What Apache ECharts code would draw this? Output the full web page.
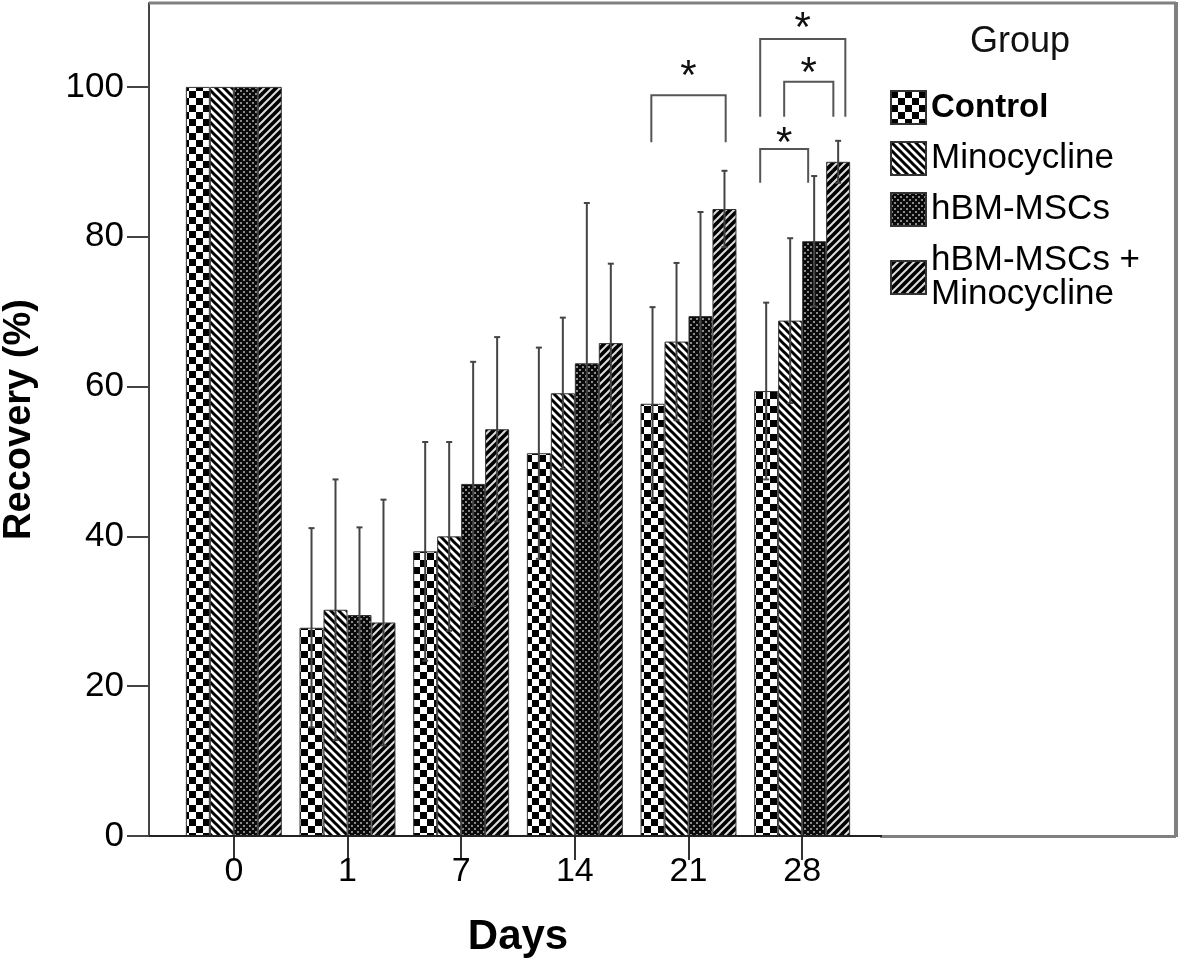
<!DOCTYPE html>
<html>
<head>
<meta charset="utf-8">
<script src="https://cdn.jsdelivr.net/npm/echarts@6/dist/echarts.min.js"></script>
<style>html,body{margin:0;padding:0;background:#fff}#c{width:1181px;height:966px}</style>
</head>
<body>
<div id="c"></div>
<script>
// ---- data ----
const days = ['0', '1', '7', '14', '21', '28'];
const groups = ['Control', 'Minocycline', 'hBM-MSCs', 'hBM-MSCs +\nMinocycline'];
const controlMean = [100, 27.8, 38.0, 51.1, 57.7, 59.4];
const controlSD   = [0, 13.3, 14.6, 14.1, 12.9, 11.8];
const minoMean    = [100, 30.2, 40.0, 59.1, 66.0, 68.8];
const minoSD      = [0, 17.4, 12.6, 10.1, 10.5, 11.0];
const hbmMean     = [100, 29.5, 47.0, 63.1, 69.4, 79.4];
const hbmSD       = [0, 11.7, 16.3, 21.4, 13.9, 8.7];
const comboMean   = [100, 28.5, 54.3, 65.8, 83.7, 90.0];
const comboSD     = [0, 16.4, 12.3, 10.6, 5.1, 2.8];
const yTicks = [0, 20, 40, 60, 80, 100];
// significance brackets: [dayIndex, leftLeg (bar units from group centre), rightLeg, topValue, legBottomValue, starValue]
const brackets = [
  [4, -1.55, 1.55, 98.9, 92.6, 102.3],
  [5, -1.75, 0.25, 91.7, 87.2, 93.4],
  [5, -0.75, 1.3, 100.7, 96.0, 102.8],
  [5, -1.75, 1.8, 106.4, 96.0, 108.8]
];

// ---- patterns ----
function makeCanvas(w, h, draw) {
  const c = document.createElement('canvas');
  c.width = w; c.height = h;
  draw(c.getContext('2d'), w, h);
  return c;
}
const checker = makeCanvas(14, 14, (ctx) => {
  ctx.fillStyle = '#fff'; ctx.fillRect(0, 0, 14, 14);
  ctx.fillStyle = '#000'; ctx.fillRect(0, 0, 7, 7); ctx.fillRect(7, 7, 7, 7);
});
const backDiag = makeCanvas(8, 8, (ctx) => {
  ctx.fillStyle = '#fff'; ctx.fillRect(0, 0, 8, 8);
  ctx.strokeStyle = '#000'; ctx.lineWidth = 3;
  for (let k = -1; k <= 1; k++) { ctx.beginPath(); ctx.moveTo(k * 8 - 2, -2); ctx.lineTo(k * 8 + 10, 10); ctx.stroke(); }
});
const dots = makeCanvas(6, 6, (ctx) => {
  ctx.fillStyle = '#0a0a0a'; ctx.fillRect(0, 0, 6, 6);
  ctx.fillStyle = '#8a8a8a'; ctx.fillRect(0, 0, 2, 2); ctx.fillRect(3, 3, 2, 2);
});
const fwdDiag = makeCanvas(8, 8, (ctx) => {
  ctx.fillStyle = '#000'; ctx.fillRect(0, 0, 8, 8);
  ctx.strokeStyle = '#ddd'; ctx.lineWidth = 2;
  for (let k = -1; k <= 1; k++) { ctx.beginPath(); ctx.moveTo(k * 8 - 2, 10); ctx.lineTo(k * 8 + 10, -2); ctx.stroke(); }
});
const patterns = [checker, backDiag, dots, fwdDiag];
const means = [controlMean, minoMean, hbmMean, comboMean];
const sds = [controlSD, minoSD, hbmSD, comboSD];

const FONT = "'Liberation Sans', Arial, sans-serif";
const BARW = 0.211;

const errData = [];
for (let g = 0; g < 4; g++) for (let i = 0; i < days.length; i++) errData.push([i, g, means[g][i], sds[g][i]]);

const barSeries = groups.map((name, g) => ({
  name: name,
  type: 'bar',
  data: means[g],
  barWidth: (BARW * 100).toFixed(1) + '%',
  barGap: '0%',
  itemStyle: { color: { image: patterns[g], repeat: 'repeat' }, borderColor: '#333', borderWidth: 1 },
  z: 2
}));

const chart = echarts.init(document.getElementById('c'), null, { renderer: 'canvas' });
const option = {
  animation: false,
  backgroundColor: '#fff',
  title: {
    text: 'Group', left: 965, top: 19,
    textStyle: { fontSize: 36, fontWeight: 'normal', fontFamily: FONT, color: '#111' }
  },
  legend: {
    orient: 'vertical', left: 885, top: 85, itemWidth: 35, itemHeight: 33, itemGap: 16,
    icon: 'rect', data: groups,
    formatter: (n) => n === 'Control' ? '{b|Control}' : n,
    textStyle: {
      fontSize: 35, lineHeight: 34, color: '#000', fontFamily: FONT,
      rich: { b: { fontSize: 33, fontWeight: 'bold', lineHeight: 34, fontFamily: FONT, color: '#000' } }
    }
  },
  grid: { left: 177, top: 3, right: 322, bottom: 130, containLabel: false, outerBoundsMode: 'none' },
  xAxis: {
    type: 'category', data: days,
    name: 'Days', nameLocation: 'middle', nameGap: 80,
    nameTextStyle: { fontSize: 42, fontWeight: 'bold', fontFamily: FONT, color: '#000' },
    axisLine: { show: false },
    axisTick: { show: true, alignWithLabel: true, length: 24, lineStyle: { color: '#333', width: 2 } },
    axisLabel: { margin: 19, fontSize: 34, color: '#000', fontFamily: FONT }
  },
  yAxis: {
    type: 'value', min: 0, max: 111.2, interval: 20, offset: 28,
    name: 'Recovery (%)', nameLocation: 'middle', nameGap: 110,
    nameTextStyle: { fontSize: 38, fontWeight: 'bold', fontFamily: FONT, color: '#000' },
    axisLine: { show: true, lineStyle: { color: '#444', width: 2 } },
    axisTick: { show: true, length: 22, customValues: yTicks, lineStyle: { color: '#444', width: 2 } },
    axisLabel: { margin: 25, fontSize: 35, color: '#000', fontFamily: FONT, customValues: yTicks },
    splitLine: { show: false }
  },
  graphic: [
    { type: 'line', shape: { x1: 149, y1: 3, x2: 1176, y2: 3 }, style: { stroke: '#808080', lineWidth: 3 }, z: 10 },
    { type: 'line', shape: { x1: 1176, y1: 2, x2: 1176, y2: 837 }, style: { stroke: '#808080', lineWidth: 4 }, z: 10 },
    { type: 'line', shape: { x1: 880, y1: 836.5, x2: 1176, y2: 836.5 }, style: { stroke: '#808080', lineWidth: 3 }, z: 10 },
    { type: 'line', shape: { x1: 149, y1: 836, x2: 882, y2: 836 }, style: { stroke: '#222', lineWidth: 2 }, z: 10 }
  ],
  series: barSeries.concat([
    {
      type: 'custom', name: 'err', data: errData, z: 5, silent: true,
      encode: { x: 0, y: 2 },
      renderItem: function (params, api) {
        const cat = api.value(0), g = api.value(1), m = api.value(2), sd = api.value(3);
        if (!(sd > 0)) return null;
        const bw = api.size([1, 0])[0] * BARW;
        const cx = api.coord([cat, m])[0] + (g - 1.5) * bw;
        const yT = api.coord([cat, m + sd])[1];
        const yB = api.coord([cat, m - sd])[1];
        const st = { stroke: '#444', lineWidth: 2 };
        return {
          type: 'group', children: [
            { type: 'line', shape: { x1: cx, y1: yT, x2: cx, y2: yB }, style: st },
            { type: 'line', shape: { x1: cx - 3, y1: yT, x2: cx + 3, y2: yT }, style: st },
            { type: 'line', shape: { x1: cx - 3, y1: yB, x2: cx + 3, y2: yB }, style: st }
          ]
        };
      }
    },
    {
      type: 'custom', name: 'sig', data: brackets, z: 6, silent: true,
      encode: { x: 0, y: 3 },
      renderItem: function (params, api) {
        const cat = api.value(0), l = api.value(1), r = api.value(2), top = api.value(3), bot = api.value(4), sv = api.value(5);
        const bw = api.size([1, 0])[0] * BARW;
        const c = api.coord([cat, top]);
        const x1 = c[0] + l * bw, x2 = c[0] + r * bw;
        const yT = c[1], yB = api.coord([cat, bot])[1], yS = api.coord([cat, sv])[1];
        return {
          type: 'group', children: [
            { type: 'polyline', shape: { points: [[x1, yB], [x1, yT], [x2, yT], [x2, yB]] }, style: { stroke: '#555', lineWidth: 2, fill: null } },
            { type: 'text', x: (x1 + x2) / 2, y: yS + 8, style: { text: '*', fontSize: 42, fontFamily: FONT, fill: '#111', align: 'center', verticalAlign: 'middle' } }
          ]
        };
      }
    }
  ])
};
chart.setOption(option);
</script>
</body>
</html>
